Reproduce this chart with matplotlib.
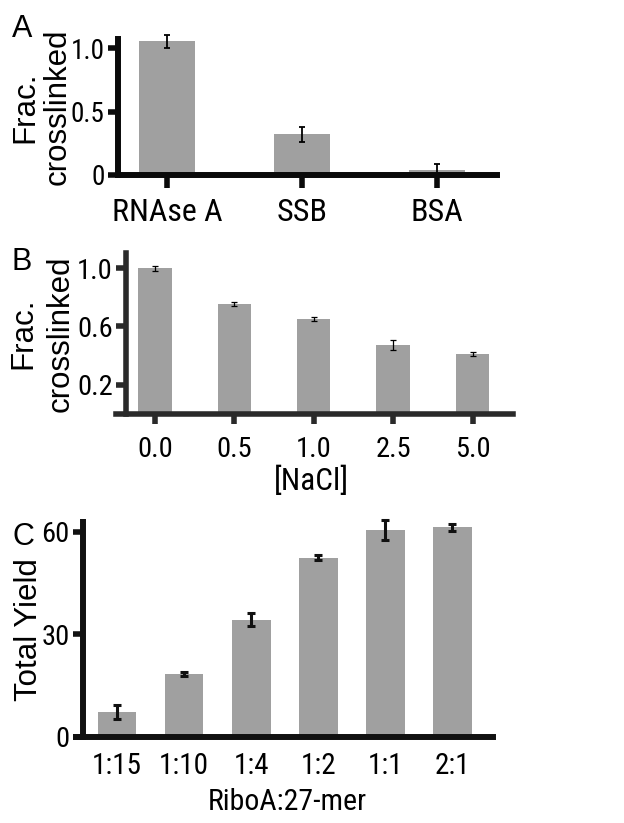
"""
Three-panel bar chart: crosslinking fraction by protein, by [NaCl],
and total yield by RiboA:27-mer ratio.
"""

import matplotlib
matplotlib.use("Agg")
import matplotlib.pyplot as plt
import matplotlib.transforms as mtransforms
import numpy as np

plt.rcParams['font.family'] = ['Liberation Sans', 'DejaVu Sans']
NARROW = ['Roboto Condensed', 'Liberation Sans']

# panel A
proteins = ['RNAse A', 'SSB', 'BSA']
frac_protein = [1.055, 0.32, 0.04]
frac_protein_err = [0.053, 0.06, 0.045]

# panel B
nacl = ['0.0', '0.5', '1.0', '2.5', '5.0']
frac_nacl = [1.0, 0.753, 0.651, 0.475, 0.41]
frac_nacl_err = [0.017, 0.015, 0.013, 0.033, 0.013]

# panel C
ratios = ['1:15', '1:10', '1:4', '1:2', '1:1', '2:1']
total_yield = [7.3, 18.4, 34.3, 52.4, 60.5, 61.3]
total_yield_err = [2.0, 0.5, 1.9, 0.7, 2.9, 1.0]

BAR_COLOR = '#a0a0a0'
FIG_W = 624


def style_axes(ax, color, spine_w=4.0):
    for side in ['top', 'right']:
        ax.spines[side].set_visible(False)
    for side in ['left', 'bottom']:
        ax.spines[side].set_linewidth(spine_w)
        ax.spines[side].set_color(color)


def narrow_ticks(ax, size_x, size_y):
    for lab in ax.get_xticklabels():
        lab.set_family(NARROW)
        lab.set_fontsize(size_x)
    for lab in ax.get_yticklabels():
        lab.set_family(NARROW)
        lab.set_fontsize(size_y)


def two_line_ylabel(ax, lines, xs_px, size=22.5):
    # each line as its own rotated text, x in figure pixels, y at axes middle
    trans = mtransforms.blended_transform_factory(fig.transFigure, ax.transAxes)
    for txt, x in zip(lines, xs_px):
        ax.text(x / FIG_W, 0.5, txt, transform=trans, rotation=90,
                ha='center', va='center', fontsize=size)


fig = plt.figure(figsize=(6.24, 8.23), dpi=100)

# --- A ---
axA = fig.add_axes([0.1891, 0.7874, 0.6074, 0.1649])
xA = np.arange(len(proteins))
axA.bar(xA, frac_protein, width=0.41, color=BAR_COLOR)
axA.errorbar(xA, frac_protein, yerr=frac_protein_err, fmt='none', ecolor='black',
             elinewidth=1.3, capsize=2.2, capthick=1.3, clip_on=False)
axA.set_xlim(-0.363, 2.444)
axA.set_ylim(0, 1.071)
axA.set_yticks([0, 0.5, 1.0])
axA.set_yticklabels(['0', '0.5', '1.0'])
axA.set_xticks(xA)
axA.set_xticklabels(proteins)
style_axes(axA, '#0a0a0a', 4.3)
axA.tick_params(axis='y', length=7, width=4.0, pad=2.5, color='#0a0a0a')
axA.tick_params(axis='x', length=9.7, width=4.0, pad=6.8, color='#0a0a0a')
narrow_ticks(axA, 23, 19.5)
two_line_ylabel(axA, ['Frac.', 'crosslinked'], [25, 57.5])

# --- B ---
axB = fig.add_axes([0.2019, 0.4970, 0.6202, 0.1956])
xB = np.arange(len(nacl))
axB.bar(xB, frac_nacl, width=0.42, color=BAR_COLOR)
axB.errorbar(xB, frac_nacl, yerr=frac_nacl_err, fmt='none', ecolor='black',
             elinewidth=0.9, capsize=2, capthick=0.9, clip_on=False)
axB.set_xlim(-0.365, 4.509)
axB.set_ylim(0, 1.104)
axB.set_yticks([0.2, 0.6, 1.0])
axB.set_yticklabels(['0.2', '0.6', '1.0'])
axB.set_xticks(xB)
axB.set_xticklabels(nacl)
style_axes(axB, '#2a2a2a')
axB.spines['bottom'].set_bounds(-0.491, 4.509)
axB.tick_params(axis='y', length=7, width=4.0, pad=2.5, color='#2a2a2a')
axB.tick_params(axis='x', length=7.2, width=4.0, pad=9, color='#2a2a2a')
narrow_ticks(axB, 20.5, 20.5)
two_line_ylabel(axB, ['Frac.', 'crosslinked'], [23.5, 61])
axB.set_xlabel('[NaCl]', fontsize=22.5, family=NARROW, va='baseline')
axB.xaxis.set_label_coords(0.478, -0.475)

# --- C ---
axC = fig.add_axes([0.133, 0.1045, 0.657, 0.2616])
xC = np.arange(len(ratios))
axC.bar(xC, total_yield, width=0.58, color=BAR_COLOR)
axC.errorbar(xC, total_yield, yerr=total_yield_err, fmt='none', ecolor='#111111',
             elinewidth=2.2, capsize=3.2, capthick=2.2, clip_on=False)
axC.set_xlim(-0.507, 5.607)
axC.set_ylim(0, 62.9)
axC.set_yticks([0, 30, 60])
axC.set_xticks(xC)
axC.set_xticklabels(ratios)
style_axes(axC, '#111111', 4.3)
axC.spines['bottom'].set_bounds(-0.611, 5.607)
axC.tick_params(axis='y', length=7, width=4.0, pad=2.5, color='#111111')
axC.tick_params(axis='x', length=0, pad=10.6)
narrow_ticks(axC, 21, 20.5)
two_line_ylabel(axC, ['Total Yield'], [29])
axC.set_xlabel('RiboA:27-mer', fontsize=21.5, family=NARROW, va='baseline')
axC.xaxis.set_label_coords(0.499, -0.339)

# panel letters
fig.text(12 / FIG_W, 1 - 37 / 823, 'A', fontsize=22, va='baseline', ha='left')
fig.text(12 / FIG_W, 1 - 270 / 823, 'B', fontsize=22, va='baseline', ha='left')
fig.text(12 / FIG_W, 1 - 545 / 823, 'C', fontsize=22, va='baseline', ha='left')

fig.savefig('out.png', dpi=100)
